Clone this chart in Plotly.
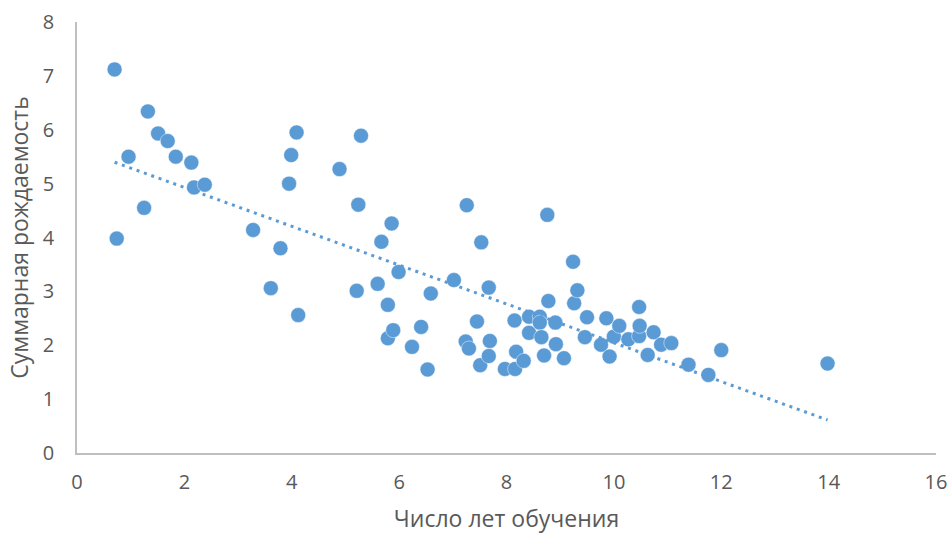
import numpy as np
import plotly.graph_objects as go

# Число лет обучения (x) and Суммарная рождаемость (y)
years = [0.70, 0.74, 0.96, 1.25, 1.32, 1.51, 1.69, 1.84, 2.13, 2.18, 2.38,
         3.28, 3.61, 3.79, 3.95, 3.99, 4.09, 4.12, 4.89, 5.21, 5.24, 5.29,
         5.60, 5.67, 5.79, 5.79, 5.86, 5.89, 5.99, 6.24, 6.41, 6.53, 6.59,
         7.02, 7.24, 7.26, 7.30, 7.45, 7.51, 7.53, 7.67, 7.67, 7.69,
         7.97, 8.15, 8.16, 8.18, 8.32, 8.42, 8.42, 8.62, 8.62, 8.65, 8.70,
         8.76, 8.78, 8.91, 8.92, 9.07, 9.24, 9.26, 9.32, 9.46, 9.50,
         9.76, 9.86, 9.92, 10.00, 10.10, 10.27, 10.47, 10.47, 10.48,
         10.63, 10.74, 10.88, 11.07, 11.39, 11.76, 12.00, 13.98]
fertility = [7.12, 3.98, 5.50, 4.55, 6.34, 5.93, 5.79, 5.50, 5.39, 4.93, 4.98,
             4.14, 3.06, 3.80, 5.00, 5.53, 5.95, 2.56, 5.27, 3.01, 4.61, 5.89,
             3.14, 3.92, 2.75, 2.13, 4.26, 2.28, 3.36, 1.97, 2.34, 1.55, 2.96,
             3.21, 2.07, 4.60, 1.94, 2.44, 1.63, 3.91, 3.07, 1.80, 2.08,
             1.56, 2.46, 1.56, 1.88, 1.71, 2.53, 2.23, 2.53, 2.42, 2.15, 1.81,
             4.42, 2.82, 2.42, 2.02, 1.76, 3.55, 2.78, 3.02, 2.15, 2.52,
             2.01, 2.50, 1.79, 2.16, 2.36, 2.11, 2.71, 2.17, 2.36,
             1.82, 2.24, 2.01, 2.04, 1.64, 1.45, 1.91, 1.66]

x_title = "Число лет обучения"
y_title = "Суммарная рождаемость"

color = "#5B9BD5"
font_family = "Open Sans, sans-serif"

xa = np.array(years)
ya = np.array(fertility)
slope, intercept = np.polyfit(xa, ya, 1)
trend_x = [xa.min(), xa.max()]
trend_y = [slope * v + intercept for v in trend_x]

fig = go.Figure()
fig.add_trace(go.Scatter(
    x=years, y=fertility, mode="markers",
    marker=dict(size=15, color=color, line=dict(color="rgba(255,255,255,0.6)", width=0.75)),
    showlegend=False, hoverinfo="x+y"))
fig.add_trace(go.Scatter(
    x=trend_x, y=trend_y, mode="lines",
    line=dict(color=color, width=3, dash="3px,4.8px"),
    showlegend=False, hoverinfo="skip"))

axis_common = dict(
    showgrid=False, zeroline=False, showline=True, linecolor="#BFBFBF", linewidth=1.5,
    ticks="", automargin=False,
    tickfont=dict(family=font_family, size=20, color="#595959"),
    title_font=dict(family=font_family, size=23, color="#595959"),
)
fig.update_xaxes(range=[0, 16], dtick=2, tick0=0, title_text=x_title,
                 ticklabelstandoff=10, title_standoff=18, **axis_common)
fig.update_yaxes(range=[0, 8], dtick=1, tick0=0, title_text=y_title,
                 ticklabelstandoff=17, title_standoff=8, **axis_common)

fig.update_layout(
    width=951, height=534,
    margin=dict(l=77, r=15, t=22, b=81),
    paper_bgcolor="white", plot_bgcolor="white",
    font=dict(family=font_family, color="#595959"),
)
fig.write_html(
    "out.html",
    config={"displayModeBar": False},
    post_script="document.body.style.margin='0';document.body.style.overflow='hidden';",
)
